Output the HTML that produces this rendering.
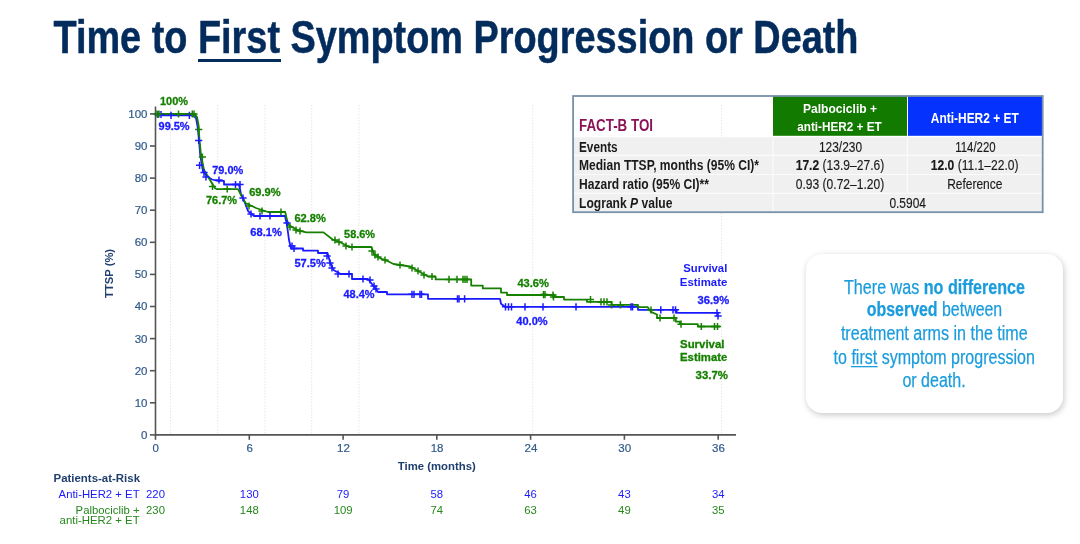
<!DOCTYPE html>
<html><head><meta charset="utf-8"><style>
html,body{margin:0;padding:0;background:#fff;width:1080px;height:544px;overflow:hidden;position:relative;font-family:"Liberation Sans", sans-serif;}
.box{position:absolute;left:806px;top:254px;width:257px;height:159px;border-radius:16px;background:#fff;box-shadow:1px 2px 6px rgba(0,0,0,0.22);}
</style></head><body>
<div class="box"></div>
<svg width="1080" height="544" viewBox="0 0 1080 544" style="position:absolute;left:0;top:0;will-change:transform">
<g font-family='"Liberation Sans", sans-serif'>
<text x="53.5" y="52.9" font-size="46" fill="#032c5d" text-anchor="start" font-weight="bold" textLength="805" lengthAdjust="spacingAndGlyphs" stroke="#032c5d" stroke-width="0.5">Time to First Symptom Progression or Death</text>
<rect x="198" y="59" width="83" height="3" fill="#032c5d"/>
<line x1="170.5" y1="105" x2="170.5" y2="434" stroke="#e6e6e6" stroke-width="1" stroke-dasharray="1.5,1.5"/>
<line x1="217.8" y1="105" x2="217.8" y2="434" stroke="#e6e6e6" stroke-width="1" stroke-dasharray="1.5,1.5"/>
<line x1="265" y1="105" x2="265" y2="434" stroke="#e6e6e6" stroke-width="1" stroke-dasharray="1.5,1.5"/>
<line x1="311.7" y1="105" x2="311.7" y2="434" stroke="#e6e6e6" stroke-width="1" stroke-dasharray="1.5,1.5"/>
<line x1="358.9" y1="105" x2="358.9" y2="434" stroke="#e6e6e6" stroke-width="1" stroke-dasharray="1.5,1.5"/>
<line x1="532.8" y1="105" x2="532.8" y2="434" stroke="#e6e6e6" stroke-width="1" stroke-dasharray="1.5,1.5"/>
<line x1="721.6" y1="105" x2="721.6" y2="434" stroke="#e6e6e6" stroke-width="1" stroke-dasharray="1.5,1.5"/>
<g stroke="#555" stroke-width="1.6" fill="none">
<line x1="155.5" y1="106.5" x2="155.5" y2="435.7"/>
<line x1="154.7" y1="434.9" x2="736" y2="434.9"/>
<line x1="150" y1="434.9" x2="155.5" y2="434.9"/>
<line x1="150" y1="402.8" x2="155.5" y2="402.8"/>
<line x1="150" y1="370.7" x2="155.5" y2="370.7"/>
<line x1="150" y1="338.6" x2="155.5" y2="338.6"/>
<line x1="150" y1="306.5" x2="155.5" y2="306.5"/>
<line x1="150" y1="274.4" x2="155.5" y2="274.4"/>
<line x1="150" y1="242.3" x2="155.5" y2="242.3"/>
<line x1="150" y1="210.2" x2="155.5" y2="210.2"/>
<line x1="150" y1="178.1" x2="155.5" y2="178.1"/>
<line x1="150" y1="146.0" x2="155.5" y2="146.0"/>
<line x1="150" y1="113.9" x2="155.5" y2="113.9"/>
<line x1="155.5" y1="434.9" x2="155.5" y2="439.8"/>
<line x1="249.3" y1="434.9" x2="249.3" y2="439.8"/>
<line x1="343.1" y1="434.9" x2="343.1" y2="439.8"/>
<line x1="436.8" y1="434.9" x2="436.8" y2="439.8"/>
<line x1="530.6" y1="434.9" x2="530.6" y2="439.8"/>
<line x1="624.4" y1="434.9" x2="624.4" y2="439.8"/>
<line x1="718.2" y1="434.9" x2="718.2" y2="439.8"/>
</g>
<text x="147.5" y="438.8" font-size="11.5" fill="#2f5a8a" text-anchor="end" stroke="#2f5a8a" stroke-width="0.2">0</text>
<text x="147.5" y="406.7" font-size="11.5" fill="#2f5a8a" text-anchor="end" stroke="#2f5a8a" stroke-width="0.2">10</text>
<text x="147.5" y="374.6" font-size="11.5" fill="#2f5a8a" text-anchor="end" stroke="#2f5a8a" stroke-width="0.2">20</text>
<text x="147.5" y="342.5" font-size="11.5" fill="#2f5a8a" text-anchor="end" stroke="#2f5a8a" stroke-width="0.2">30</text>
<text x="147.5" y="310.4" font-size="11.5" fill="#2f5a8a" text-anchor="end" stroke="#2f5a8a" stroke-width="0.2">40</text>
<text x="147.5" y="278.3" font-size="11.5" fill="#2f5a8a" text-anchor="end" stroke="#2f5a8a" stroke-width="0.2">50</text>
<text x="147.5" y="246.2" font-size="11.5" fill="#2f5a8a" text-anchor="end" stroke="#2f5a8a" stroke-width="0.2">60</text>
<text x="147.5" y="214.1" font-size="11.5" fill="#2f5a8a" text-anchor="end" stroke="#2f5a8a" stroke-width="0.2">70</text>
<text x="147.5" y="182.0" font-size="11.5" fill="#2f5a8a" text-anchor="end" stroke="#2f5a8a" stroke-width="0.2">80</text>
<text x="147.5" y="149.9" font-size="11.5" fill="#2f5a8a" text-anchor="end" stroke="#2f5a8a" stroke-width="0.2">90</text>
<text x="147.5" y="117.8" font-size="11.5" fill="#2f5a8a" text-anchor="end" stroke="#2f5a8a" stroke-width="0.2">100</text>
<text x="155.8" y="452" font-size="11.5" fill="#2f5a8a" text-anchor="middle" stroke="#2f5a8a" stroke-width="0.2">0</text>
<text x="249.6" y="452" font-size="11.5" fill="#2f5a8a" text-anchor="middle" stroke="#2f5a8a" stroke-width="0.2">6</text>
<text x="343.4" y="452" font-size="11.5" fill="#2f5a8a" text-anchor="middle" stroke="#2f5a8a" stroke-width="0.2">12</text>
<text x="437.1" y="452" font-size="11.5" fill="#2f5a8a" text-anchor="middle" stroke="#2f5a8a" stroke-width="0.2">18</text>
<text x="530.9" y="452" font-size="11.5" fill="#2f5a8a" text-anchor="middle" stroke="#2f5a8a" stroke-width="0.2">24</text>
<text x="624.7" y="452" font-size="11.5" fill="#2f5a8a" text-anchor="middle" stroke="#2f5a8a" stroke-width="0.2">30</text>
<text x="718.5" y="452" font-size="11.5" fill="#2f5a8a" text-anchor="middle" stroke="#2f5a8a" stroke-width="0.2">36</text>
<text x="436.8" y="470" font-size="11.3" fill="#1f3f6f" text-anchor="middle" font-weight="bold" textLength="78" lengthAdjust="spacingAndGlyphs">Time (months)</text>
<text transform="translate(113.2,273.4) rotate(-90)" x="0" y="0" font-size="11.3" font-weight="bold" fill="#1f3f6f" text-anchor="middle" textLength="49" lengthAdjust="spacingAndGlyphs">TTSP (%)</text>
<polyline points="156,114.5 162,114.5 162,115.3 190,115.3 193,115 196,118 197.5,126 199,140 200.2,155 203,171.7 208.5,177.2 212,179.5 217.7,180.9 224,180.9 224,184.5 239,184.5 241,194 245,203 248,211 254,216 285,216 287,225 289,240 291,248.5 303,248.5 303,250.6 318,250.6 318,253 327.5,253 330,262 333.5,270 340.7,274 352,274 352,279 368,279 372,284 378,292 387,292 387,294.3 428,294.3 428,298.8 500,298.8 501,303.8 505,306.8 638,306.8 638,309.8 676.7,309.8 676.7,312.8 719,312.8" fill="none" stroke="#1a1aff" stroke-width="1.8" stroke-linejoin="round"/>
<polyline points="156,114 194.7,114 197,117 198.4,124 199.5,140 201,155 204,170 209.4,179 215,188.2 217,189.2 238,189.2 241,195 245.5,203 256,208 267.8,212 285.2,212 287,220 289,225.3 298,230.4 306.3,232.4 323.5,232.4 332.6,239.5 340.7,242.5 349,247 371.5,247 374,254 381,258.7 389,261.7 393.5,264 410,266.5 428,276.5 435.6,276.5 435.6,279.4 471.2,279.4 471.2,285.6 482.8,285.6 482.8,288.4 501,288.4 501,292.6 507,292.6 507,295 554.7,295 554.7,297 564,297 564,299.6 587,299.6 587,301.9 611.6,301.9 611.6,304.9 638,304.9 638,307.1 647.6,307.1 651,311.9 657,314.5 657,318 675.8,318 675.8,321.6 680,321.6 680,324.2 697.8,324.2 697.8,326.5 720,326.5" fill="none" stroke="#168000" stroke-width="1.8" stroke-linejoin="round"/>
<path d="M154.4,114.5H161.6M158,110.9V118.1" stroke="#1a1aff" stroke-width="1.5"/>
<path d="M157.4,114.5H164.6M161,110.9V118.1" stroke="#1a1aff" stroke-width="1.5"/>
<path d="M167.4,115.3H174.6M171,111.7V118.89999999999999" stroke="#1a1aff" stroke-width="1.5"/>
<path d="M185.8,115.3H193.0M189.4,111.7V118.89999999999999" stroke="#1a1aff" stroke-width="1.5"/>
<path d="M195.1,140.4H202.29999999999998M198.7,136.8V144.0" stroke="#1a1aff" stroke-width="1.5"/>
<path d="M196.0,165.3H203.2M199.6,161.70000000000002V168.9" stroke="#1a1aff" stroke-width="1.5"/>
<path d="M200.4,172.6H207.6M204,169.0V176.2" stroke="#1a1aff" stroke-width="1.5"/>
<path d="M202.4,177H209.6M206,173.4V180.6" stroke="#1a1aff" stroke-width="1.5"/>
<path d="M215.4,180H222.6M219,176.4V183.6" stroke="#1a1aff" stroke-width="1.5"/>
<path d="M231.9,184.5H239.1M235.5,180.9V188.1" stroke="#1a1aff" stroke-width="1.5"/>
<path d="M236.4,184.5H243.6M240,180.9V188.1" stroke="#1a1aff" stroke-width="1.5"/>
<path d="M239.4,198H246.6M243,194.4V201.6" stroke="#1a1aff" stroke-width="1.5"/>
<path d="M247.4,214H254.6M251,210.4V217.6" stroke="#1a1aff" stroke-width="1.5"/>
<path d="M256.4,216H263.6M260,212.4V219.6" stroke="#1a1aff" stroke-width="1.5"/>
<path d="M266.4,216H273.6M270,212.4V219.6" stroke="#1a1aff" stroke-width="1.5"/>
<path d="M283.4,223H290.6M287,219.4V226.6" stroke="#1a1aff" stroke-width="1.5"/>
<path d="M288.4,246H295.6M292,242.4V249.6" stroke="#1a1aff" stroke-width="1.5"/>
<path d="M290.4,248.5H297.6M294,244.9V252.1" stroke="#1a1aff" stroke-width="1.5"/>
<path d="M323.4,256H330.6M327,252.4V259.6" stroke="#1a1aff" stroke-width="1.5"/>
<path d="M326.4,263H333.6M330,259.4V266.6" stroke="#1a1aff" stroke-width="1.5"/>
<path d="M328.4,268H335.6M332,264.4V271.6" stroke="#1a1aff" stroke-width="1.5"/>
<path d="M334.4,274H341.6M338,270.4V277.6" stroke="#1a1aff" stroke-width="1.5"/>
<path d="M345.4,274H352.6M349,270.4V277.6" stroke="#1a1aff" stroke-width="1.5"/>
<path d="M359.4,279H366.6M363,275.4V282.6" stroke="#1a1aff" stroke-width="1.5"/>
<path d="M366.4,280H373.6M370,276.4V283.6" stroke="#1a1aff" stroke-width="1.5"/>
<path d="M370.4,286H377.6M374,282.4V289.6" stroke="#1a1aff" stroke-width="1.5"/>
<path d="M372.4,289H379.6M376,285.4V292.6" stroke="#1a1aff" stroke-width="1.5"/>
<path d="M408.4,294.3H415.6M412,290.7V297.90000000000003" stroke="#1a1aff" stroke-width="1.5"/>
<path d="M410.4,294.3H417.6M414,290.7V297.90000000000003" stroke="#1a1aff" stroke-width="1.5"/>
<path d="M416.4,294.3H423.6M420,290.7V297.90000000000003" stroke="#1a1aff" stroke-width="1.5"/>
<path d="M417.9,294.3H425.1M421.5,290.7V297.90000000000003" stroke="#1a1aff" stroke-width="1.5"/>
<path d="M453.9,298.8H461.1M457.5,295.2V302.40000000000003" stroke="#1a1aff" stroke-width="1.5"/>
<path d="M455.4,298.8H462.6M459,295.2V302.40000000000003" stroke="#1a1aff" stroke-width="1.5"/>
<path d="M461.0,298.8H468.20000000000005M464.6,295.2V302.40000000000003" stroke="#1a1aff" stroke-width="1.5"/>
<path d="M501.9,306.8H509.1M505.5,303.2V310.40000000000003" stroke="#1a1aff" stroke-width="1.5"/>
<path d="M504.9,306.8H512.1M508.5,303.2V310.40000000000003" stroke="#1a1aff" stroke-width="1.5"/>
<path d="M507.9,306.8H515.1M511.5,303.2V310.40000000000003" stroke="#1a1aff" stroke-width="1.5"/>
<path d="M521.4,306.8H528.6M525,303.2V310.40000000000003" stroke="#1a1aff" stroke-width="1.5"/>
<path d="M539.4,306.8H546.6M543,303.2V310.40000000000003" stroke="#1a1aff" stroke-width="1.5"/>
<path d="M572.4,306.8H579.6M576,303.2V310.40000000000003" stroke="#1a1aff" stroke-width="1.5"/>
<path d="M627.4,306.8H634.6M631,303.2V310.40000000000003" stroke="#1a1aff" stroke-width="1.5"/>
<path d="M628.9,306.8H636.1M632.5,303.2V310.40000000000003" stroke="#1a1aff" stroke-width="1.5"/>
<path d="M657.1999999999999,309.8H664.4M660.8,306.2V313.40000000000003" stroke="#1a1aff" stroke-width="1.5"/>
<path d="M669.4,309.8H676.6M673,306.2V313.40000000000003" stroke="#1a1aff" stroke-width="1.5"/>
<path d="M671.9,309.8H679.1M675.5,306.2V313.40000000000003" stroke="#1a1aff" stroke-width="1.5"/>
<path d="M713.4,312.8H720.6M717,309.2V316.40000000000003" stroke="#1a1aff" stroke-width="1.5"/>
<path d="M714.4,316H721.6M718,312.4V319.6" stroke="#1a1aff" stroke-width="1.5"/>
<path d="M153.4,114H160.6M157,110.4V117.6" stroke="#168000" stroke-width="1.5"/>
<path d="M155.4,114H162.6M159,110.4V117.6" stroke="#168000" stroke-width="1.5"/>
<path d="M174.9,114H182.1M178.5,110.4V117.6" stroke="#168000" stroke-width="1.5"/>
<path d="M188.70000000000002,114H195.9M192.3,110.4V117.6" stroke="#168000" stroke-width="1.5"/>
<path d="M190.4,114H197.6M194,110.4V117.6" stroke="#168000" stroke-width="1.5"/>
<path d="M195.1,129.4H202.29999999999998M198.7,125.80000000000001V133.0" stroke="#168000" stroke-width="1.5"/>
<path d="M198.8,157H206.0M202.4,153.4V160.6" stroke="#168000" stroke-width="1.5"/>
<path d="M208.9,186.4H216.1M212.5,182.8V190.0" stroke="#168000" stroke-width="1.5"/>
<path d="M223.6,189H230.79999999999998M227.2,185.4V192.6" stroke="#168000" stroke-width="1.5"/>
<path d="M245.4,206H252.6M249,202.4V209.6" stroke="#168000" stroke-width="1.5"/>
<path d="M258.4,211H265.6M262,207.4V214.6" stroke="#168000" stroke-width="1.5"/>
<path d="M277.4,212H284.6M281,208.4V215.6" stroke="#168000" stroke-width="1.5"/>
<path d="M286.4,227H293.6M290,223.4V230.6" stroke="#168000" stroke-width="1.5"/>
<path d="M292.4,230H299.6M296,226.4V233.6" stroke="#168000" stroke-width="1.5"/>
<path d="M296.4,231H303.6M300,227.4V234.6" stroke="#168000" stroke-width="1.5"/>
<path d="M331.4,240H338.6M335,236.4V243.6" stroke="#168000" stroke-width="1.5"/>
<path d="M335.4,242H342.6M339,238.4V245.6" stroke="#168000" stroke-width="1.5"/>
<path d="M342.4,246H349.6M346,242.4V249.6" stroke="#168000" stroke-width="1.5"/>
<path d="M348.4,247H355.6M352,243.4V250.6" stroke="#168000" stroke-width="1.5"/>
<path d="M368.4,251H375.6M372,247.4V254.6" stroke="#168000" stroke-width="1.5"/>
<path d="M371.4,255H378.6M375,251.4V258.6" stroke="#168000" stroke-width="1.5"/>
<path d="M374.4,257H381.6M378,253.4V260.6" stroke="#168000" stroke-width="1.5"/>
<path d="M381.4,260H388.6M385,256.4V263.6" stroke="#168000" stroke-width="1.5"/>
<path d="M396.4,265H403.6M400,261.4V268.6" stroke="#168000" stroke-width="1.5"/>
<path d="M408.4,268H415.6M412,264.4V271.6" stroke="#168000" stroke-width="1.5"/>
<path d="M414.4,271H421.6M418,267.4V274.6" stroke="#168000" stroke-width="1.5"/>
<path d="M420.4,275H427.6M424,271.4V278.6" stroke="#168000" stroke-width="1.5"/>
<path d="M428.4,276.5H435.6M432,272.9V280.1" stroke="#168000" stroke-width="1.5"/>
<path d="M445.4,279.4H452.6M449,275.79999999999995V283.0" stroke="#168000" stroke-width="1.5"/>
<path d="M453.4,279.4H460.6M457,275.79999999999995V283.0" stroke="#168000" stroke-width="1.5"/>
<path d="M459.4,279.4H466.6M463,275.79999999999995V283.0" stroke="#168000" stroke-width="1.5"/>
<path d="M461.4,279.4H468.6M465,275.79999999999995V283.0" stroke="#168000" stroke-width="1.5"/>
<path d="M463.4,279.4H470.6M467,275.79999999999995V283.0" stroke="#168000" stroke-width="1.5"/>
<path d="M539.9,294.6H547.1M543.5,291.0V298.20000000000005" stroke="#168000" stroke-width="1.5"/>
<path d="M541.4,294.6H548.6M545,291.0V298.20000000000005" stroke="#168000" stroke-width="1.5"/>
<path d="M549.4,295H556.6M553,291.4V298.6" stroke="#168000" stroke-width="1.5"/>
<path d="M549.9,297H557.1M553.5,293.4V300.6" stroke="#168000" stroke-width="1.5"/>
<path d="M586.9,299.6H594.1M590.5,296.0V303.20000000000005" stroke="#168000" stroke-width="1.5"/>
<path d="M597.4,301.9H604.6M601,298.29999999999995V305.5" stroke="#168000" stroke-width="1.5"/>
<path d="M600.4,301.9H607.6M604,298.29999999999995V305.5" stroke="#168000" stroke-width="1.5"/>
<path d="M603.4,301.9H610.6M607,298.29999999999995V305.5" stroke="#168000" stroke-width="1.5"/>
<path d="M608.0,304.9H615.2M611.6,301.29999999999995V308.5" stroke="#168000" stroke-width="1.5"/>
<path d="M616.8,304.9H624.0M620.4,301.29999999999995V308.5" stroke="#168000" stroke-width="1.5"/>
<path d="M647.4,310H654.6M651,306.4V313.6" stroke="#168000" stroke-width="1.5"/>
<path d="M656.4,318H663.6M660,314.4V321.6" stroke="#168000" stroke-width="1.5"/>
<path d="M670.4,318H677.6M674,314.4V321.6" stroke="#168000" stroke-width="1.5"/>
<path d="M677.4,324.2H684.6M681,320.59999999999997V327.8" stroke="#168000" stroke-width="1.5"/>
<path d="M697.6999999999999,326.5H704.9M701.3,322.9V330.1" stroke="#168000" stroke-width="1.5"/>
<path d="M710.9,326.5H718.1M714.5,322.9V330.1" stroke="#168000" stroke-width="1.5"/>
<path d="M713.9,326.5H721.1M717.5,322.9V330.1" stroke="#168000" stroke-width="1.5"/>
<text x="160" y="104.8" font-size="11.3" fill="#168000" text-anchor="start" font-weight="bold" textLength="28" lengthAdjust="spacingAndGlyphs" stroke="#168000" stroke-width="0.3">100%</text>
<text x="158.6" y="130" font-size="11.3" fill="#1a1aff" text-anchor="start" font-weight="bold" textLength="31" lengthAdjust="spacingAndGlyphs" stroke="#1a1aff" stroke-width="0.3">99.5%</text>
<text x="212.2" y="174" font-size="11.3" fill="#1a1aff" text-anchor="start" font-weight="bold" textLength="31" lengthAdjust="spacingAndGlyphs" stroke="#1a1aff" stroke-width="0.3">79.0%</text>
<text x="206" y="204.3" font-size="11.3" fill="#168000" text-anchor="start" font-weight="bold" textLength="31" lengthAdjust="spacingAndGlyphs" stroke="#168000" stroke-width="0.3">76.7%</text>
<text x="249.2" y="196" font-size="11.3" fill="#168000" text-anchor="start" font-weight="bold" textLength="31.5" lengthAdjust="spacingAndGlyphs" stroke="#168000" stroke-width="0.3">69.9%</text>
<text x="250.3" y="236.1" font-size="11.3" fill="#1a1aff" text-anchor="start" font-weight="bold" textLength="31.5" lengthAdjust="spacingAndGlyphs" stroke="#1a1aff" stroke-width="0.3">68.1%</text>
<text x="294.4" y="221.7" font-size="11.3" fill="#168000" text-anchor="start" font-weight="bold" textLength="31.5" lengthAdjust="spacingAndGlyphs" stroke="#168000" stroke-width="0.3">62.8%</text>
<text x="344.1" y="238.4" font-size="11.3" fill="#168000" text-anchor="start" font-weight="bold" textLength="31" lengthAdjust="spacingAndGlyphs" stroke="#168000" stroke-width="0.3">58.6%</text>
<text x="294.4" y="266.8" font-size="11.3" fill="#1a1aff" text-anchor="start" font-weight="bold" textLength="31.5" lengthAdjust="spacingAndGlyphs" stroke="#1a1aff" stroke-width="0.3">57.5%</text>
<text x="343.5" y="298.1" font-size="11.3" fill="#1a1aff" text-anchor="start" font-weight="bold" textLength="31" lengthAdjust="spacingAndGlyphs" stroke="#1a1aff" stroke-width="0.3">48.4%</text>
<text x="517.4" y="286.8" font-size="11.3" fill="#168000" text-anchor="start" font-weight="bold" textLength="31.5" lengthAdjust="spacingAndGlyphs" stroke="#168000" stroke-width="0.3">43.6%</text>
<text x="516.3" y="324.7" font-size="11.3" fill="#1a1aff" text-anchor="start" font-weight="bold" textLength="31.3" lengthAdjust="spacingAndGlyphs" stroke="#1a1aff" stroke-width="0.3">40.0%</text>
<text x="727.3" y="272.2" font-size="11.3" fill="#1a1aff" text-anchor="end" font-weight="bold" textLength="44" lengthAdjust="spacingAndGlyphs">Survival</text>
<text x="727.3" y="286" font-size="11.3" fill="#1a1aff" text-anchor="end" font-weight="bold" textLength="47.5" lengthAdjust="spacingAndGlyphs">Estimate</text>
<text x="697.5" y="304" font-size="11.3" fill="#1a1aff" text-anchor="start" font-weight="bold" textLength="31.8" lengthAdjust="spacingAndGlyphs" stroke="#1a1aff" stroke-width="0.3">36.9%</text>
<text x="680" y="348.1" font-size="11.3" fill="#168000" text-anchor="start" font-weight="bold" textLength="44.5" lengthAdjust="spacingAndGlyphs" stroke="#168000" stroke-width="0.3">Survival</text>
<text x="680" y="361.3" font-size="11.3" fill="#168000" text-anchor="start" font-weight="bold" textLength="47.3" lengthAdjust="spacingAndGlyphs" stroke="#168000" stroke-width="0.3">Estimate</text>
<text x="695.6" y="379.2" font-size="11.3" fill="#168000" text-anchor="start" font-weight="bold" textLength="32.4" lengthAdjust="spacingAndGlyphs" stroke="#168000" stroke-width="0.3">33.7%</text>
<text x="53.5" y="482.2" font-size="11.5" fill="#1f3f6f" text-anchor="start" font-weight="bold" textLength="86.5" lengthAdjust="spacingAndGlyphs">Patients-at-Risk</text>
<text x="139.6" y="498.4" font-size="11.3" fill="#1a1aff" text-anchor="end" textLength="81" lengthAdjust="spacingAndGlyphs">Anti-HER2 + ET</text>
<text x="139.6" y="514" font-size="11.3" fill="#24881a" text-anchor="end" textLength="64" lengthAdjust="spacingAndGlyphs">Palbociclib +</text>
<text x="139.6" y="524" font-size="11.3" fill="#24881a" text-anchor="end" textLength="80" lengthAdjust="spacingAndGlyphs">anti-HER2 + ET</text>
<text x="155.5" y="498.4" font-size="11.3" fill="#1a1aff" text-anchor="middle">220</text>
<text x="155.5" y="514" font-size="11.3" fill="#24881a" text-anchor="middle">230</text>
<text x="249.3" y="498.4" font-size="11.3" fill="#1a1aff" text-anchor="middle">130</text>
<text x="249.3" y="514" font-size="11.3" fill="#24881a" text-anchor="middle">148</text>
<text x="343.1" y="498.4" font-size="11.3" fill="#1a1aff" text-anchor="middle">79</text>
<text x="343.1" y="514" font-size="11.3" fill="#24881a" text-anchor="middle">109</text>
<text x="436.8" y="498.4" font-size="11.3" fill="#1a1aff" text-anchor="middle">58</text>
<text x="436.8" y="514" font-size="11.3" fill="#24881a" text-anchor="middle">74</text>
<text x="530.6" y="498.4" font-size="11.3" fill="#1a1aff" text-anchor="middle">46</text>
<text x="530.6" y="514" font-size="11.3" fill="#24881a" text-anchor="middle">63</text>
<text x="624.4" y="498.4" font-size="11.3" fill="#1a1aff" text-anchor="middle">43</text>
<text x="624.4" y="514" font-size="11.3" fill="#24881a" text-anchor="middle">49</text>
<text x="718.2" y="498.4" font-size="11.3" fill="#1a1aff" text-anchor="middle">34</text>
<text x="718.2" y="514" font-size="11.3" fill="#24881a" text-anchor="middle">35</text>
<rect x="573.5" y="137.3" width="469" height="75.2" fill="#f0f0f0"/>
<rect x="773" y="96" width="134" height="39.8" fill="#137a00"/>
<rect x="908" y="96" width="134.6" height="39.8" fill="#0533fd"/>
<line x1="574" y1="155.3" x2="1042" y2="155.3" stroke="#fbfbfb" stroke-width="1.2"/>
<line x1="574" y1="174.5" x2="1042" y2="174.5" stroke="#fbfbfb" stroke-width="1.2"/>
<line x1="574" y1="193.3" x2="1042" y2="193.3" stroke="#fbfbfb" stroke-width="1.2"/>
<line x1="773" y1="136" x2="773" y2="212" stroke="#fbfbfb" stroke-width="1.2"/>
<line x1="907.3" y1="136" x2="907.3" y2="193.3" stroke="#fbfbfb" stroke-width="1.2"/>
<rect x="573.1" y="96" width="469.6" height="116.2" fill="none" stroke="#7890aa" stroke-width="1.8"/>
<text x="579" y="130.5" font-size="16" fill="#8a1457" text-anchor="start" font-weight="bold" textLength="74" lengthAdjust="spacingAndGlyphs">FACT-B TOI</text>
<text x="840" y="112.5" font-size="13.5" fill="#ffffff" text-anchor="middle" font-weight="bold" textLength="74" lengthAdjust="spacingAndGlyphs">Palbociclib +</text>
<text x="839.5" y="130.6" font-size="13.5" fill="#ffffff" text-anchor="middle" font-weight="bold" textLength="84.5" lengthAdjust="spacingAndGlyphs">anti-HER2 + ET</text>
<text x="974.8" y="122.5" font-size="13.8" fill="#ffffff" text-anchor="middle" font-weight="bold" textLength="88" lengthAdjust="spacingAndGlyphs">Anti-HER2 + ET</text>
<text x="579" y="151.6" font-size="14.1" fill="#1a1a1a" text-anchor="start" font-weight="bold" textLength="38.6" lengthAdjust="spacingAndGlyphs">Events</text>
<text x="579" y="170.2" font-size="14.1" fill="#1a1a1a" text-anchor="start" font-weight="bold" textLength="180" lengthAdjust="spacingAndGlyphs">Median TTSP, months (95% CI)*</text>
<text x="579" y="189.3" font-size="14.1" fill="#1a1a1a" text-anchor="start" font-weight="bold" textLength="130" lengthAdjust="spacingAndGlyphs">Hazard ratio (95% CI)**</text>
<text x="579" y="207.8" font-size="14.1" fill="#1a1a1a" text-anchor="start" font-weight="bold" textLength="93.5" lengthAdjust="spacingAndGlyphs">Logrank <tspan font-style="italic">P</tspan> value</text>
<text x="840.5" y="151.6" font-size="14.1" fill="#1a1a1a" text-anchor="middle" textLength="43" lengthAdjust="spacingAndGlyphs" stroke="#1a1a1a" stroke-width="0.15">123/230</text>
<text x="975.4" y="151.6" font-size="14.1" fill="#1a1a1a" text-anchor="middle" textLength="40.3" lengthAdjust="spacingAndGlyphs" stroke="#1a1a1a" stroke-width="0.15">114/220</text>
<text x="840" y="170.2" font-size="14.1" fill="#1a1a1a" text-anchor="middle" textLength="88.6" lengthAdjust="spacingAndGlyphs" stroke="#1a1a1a" stroke-width="0.15"><tspan font-weight="bold">17.2</tspan> (13.9–27.6)</text>
<text x="974.7" y="170.2" font-size="14.1" fill="#1a1a1a" text-anchor="middle" textLength="87.8" lengthAdjust="spacingAndGlyphs" stroke="#1a1a1a" stroke-width="0.15"><tspan font-weight="bold">12.0</tspan> (11.1–22.0)</text>
<text x="840" y="189.3" font-size="14.1" fill="#1a1a1a" text-anchor="middle" textLength="88.6" lengthAdjust="spacingAndGlyphs" stroke="#1a1a1a" stroke-width="0.15">0.93 (0.72–1.20)</text>
<text x="974.8" y="189.3" font-size="14.1" fill="#1a1a1a" text-anchor="middle" textLength="55.3" lengthAdjust="spacingAndGlyphs" stroke="#1a1a1a" stroke-width="0.15">Reference</text>
<text x="907.7" y="207.8" font-size="14.1" fill="#1a1a1a" text-anchor="middle" textLength="36.6" lengthAdjust="spacingAndGlyphs" stroke="#1a1a1a" stroke-width="0.15">0.5904</text>
</g></svg>
<svg width="1080" height="544" style="position:absolute;left:0;top:0;will-change:transform">
<g font-family='"Liberation Sans", sans-serif' font-size="19.5" fill="#1b9cdc" stroke="#1b9cdc" stroke-width="0.25" text-anchor="middle">
<text x="934.5" y="293.6" textLength="181" lengthAdjust="spacingAndGlyphs">There was <tspan font-weight="bold">no difference</tspan></text>
<text x="934.5" y="316.3" textLength="135.4" lengthAdjust="spacingAndGlyphs"><tspan font-weight="bold">observed</tspan> between</text>
<text x="934.3" y="340.3" textLength="186.8" lengthAdjust="spacingAndGlyphs">treatment arms in the time</text>
<text x="934.2" y="364.2" textLength="201.2" lengthAdjust="spacingAndGlyphs">to first symptom progression</text>
<text x="934" y="387.2" textLength="63.2" lengthAdjust="spacingAndGlyphs">or death.</text>
</g>
<rect x="851" y="366" width="26.6" height="1.3" fill="#1b9cdc"/>
</svg>
</body></html>
